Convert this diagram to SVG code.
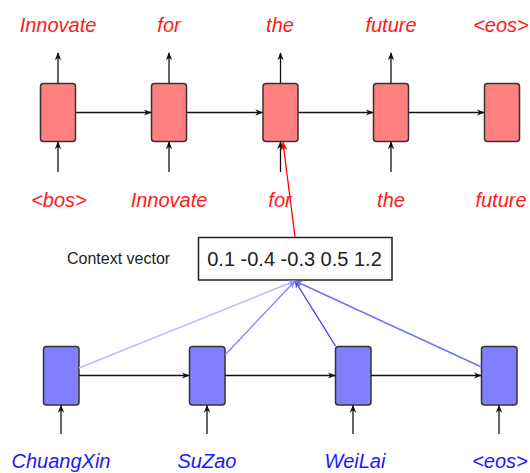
<svg xmlns="http://www.w3.org/2000/svg" width="530" height="473" viewBox="0 0 530 473">
  <style>
    .dec { fill: #ff8080; stroke: #333; stroke-width: 1.5; }
    .enc { fill: #8080ff; stroke: #333; stroke-width: 1.5; }
    .wr { font-family: "Liberation Sans", Arial, sans-serif; font-size: 20px; font-style: italic; fill: #ff1a1a; text-anchor: middle; }
    .wb { font-family: "Liberation Sans", Arial, sans-serif; font-size: 20px; font-style: italic; fill: #1a1aff; text-anchor: middle; }
    .blk { stroke: #111; stroke-width: 1.3; fill: none; }
    .ctx { fill: #fff; stroke: #222; stroke-width: 1.5; }
    .ctxt { font-family: "Liberation Sans", Arial, sans-serif; font-size: 20px; fill: #222; text-anchor: middle; }
    .lbl { font-family: "Liberation Sans", Arial, sans-serif; font-size: 16px; fill: #222; }
  </style>
  <defs>
    <marker id="ab" viewBox="0 0 10 10" refX="9" refY="5" markerWidth="8" markerHeight="8" markerUnits="userSpaceOnUse" orient="auto">
      <path d="M0,1 L10,5 L0,9 L3,5 Z" fill="#111"/>
    </marker>
    <marker id="ar" viewBox="0 0 10 10" refX="9" refY="5" markerWidth="9" markerHeight="9" markerUnits="userSpaceOnUse" orient="auto">
      <path d="M0,1 L10,5 L0,9 L3,5 Z" fill="#ff0000"/>
    </marker>
    <marker id="a1" viewBox="0 0 10 10" refX="9" refY="5" markerWidth="8" markerHeight="8" markerUnits="userSpaceOnUse" orient="auto">
      <path d="M0,1 L10,5 L0,9 L3,5 Z" fill="#b8b8ff"/>
    </marker>
    <marker id="a2" viewBox="0 0 10 10" refX="9" refY="5" markerWidth="8" markerHeight="8" markerUnits="userSpaceOnUse" orient="auto">
      <path d="M0,1 L10,5 L0,9 L3,5 Z" fill="#8888ff"/>
    </marker>
    <marker id="a3" viewBox="0 0 10 10" refX="9" refY="5" markerWidth="8" markerHeight="8" markerUnits="userSpaceOnUse" orient="auto">
      <path d="M0,1 L10,5 L0,9 L3,5 Z" fill="#4040ff"/>
    </marker>
    <marker id="a4" viewBox="0 0 10 10" refX="9" refY="5" markerWidth="8" markerHeight="8" markerUnits="userSpaceOnUse" orient="auto">
      <path d="M0,1 L10,5 L0,9 L3,5 Z" fill="#7070ff"/>
    </marker>
  </defs>

  <!-- decoder outputs -->
  <g id="out-words">
    <text class="wr" x="58" y="31.5">Innovate</text>
    <text class="wr" x="169" y="31.5">for</text>
    <text class="wr" x="280" y="31.5">the</text>
    <text class="wr" x="391" y="31.5">future</text>
    <text class="wr" x="501" y="31.5">&lt;eos&gt;</text>
  </g>

  <!-- decoder cells -->
  <g id="dec1"><rect class="dec" x="40.5" y="83.5" width="35" height="58" rx="3"/></g>
  <g id="dec2"><rect class="dec" x="151.5" y="83.5" width="35" height="58" rx="3"/></g>
  <g id="dec3"><rect class="dec" x="263" y="83.5" width="35" height="58" rx="3"/></g>
  <g id="dec4"><rect class="dec" x="373.5" y="83.5" width="35" height="58" rx="3"/></g>
  <g id="dec5"><rect class="dec" x="484.5" y="83.5" width="35" height="58" rx="3"/></g>

  <!-- decoder inputs -->
  <g id="in-words">
    <text class="wr" x="59" y="207">&lt;bos&gt;</text>
    <text class="wr" x="169" y="207">Innovate</text>
    <text class="wr" x="280" y="207">for</text>
    <text class="wr" x="391" y="207">the</text>
    <text class="wr" x="501" y="207">future</text>
  </g>

  <!-- context vector -->
  <g id="context">
    <text class="lbl" x="67" y="264">Context vector</text>
    <rect class="ctx" x="198.5" y="237.5" width="193.5" height="42.5"/>
    <text class="ctxt" x="294.5" y="266">0.1 -0.4 -0.3 0.5 1.2</text>
  </g>

  <!-- encoder cells -->
  <g id="enc1"><rect class="enc" x="43.5" y="346.5" width="35.5" height="58.5" rx="3"/></g>
  <g id="enc2"><rect class="enc" x="189.5" y="346.5" width="35.5" height="58.5" rx="3"/></g>
  <g id="enc3"><rect class="enc" x="335.5" y="346.5" width="35.5" height="58.5" rx="3"/></g>
  <g id="enc4"><rect class="enc" x="481.5" y="346.5" width="35.5" height="58.5" rx="3"/></g>

  <!-- encoder inputs -->
  <g id="src-words">
    <text class="wb" x="61" y="468">ChuangXin</text>
    <text class="wb" x="207" y="468">SuZao</text>
    <text class="wb" x="355" y="468">WeiLai</text>
    <text class="wb" x="500" y="468">&lt;eos&gt;</text>
  </g>

  <g id="connectors">
    <!-- decoder: outputs -->
    <line class="blk" x1="58" y1="83" x2="58" y2="53" marker-end="url(#ab)"/>
    <line class="blk" x1="169" y1="83" x2="169" y2="53" marker-end="url(#ab)"/>
    <line class="blk" x1="280.5" y1="83" x2="280.5" y2="53" marker-end="url(#ab)"/>
    <line class="blk" x1="391" y1="83" x2="391" y2="53" marker-end="url(#ab)"/>
    <!-- decoder: recurrence -->
    <line class="blk" x1="76" y1="112.5" x2="151" y2="112.5" marker-end="url(#ab)"/>
    <line class="blk" x1="187" y1="112.5" x2="262.5" y2="112.5" marker-end="url(#ab)"/>
    <line class="blk" x1="298.5" y1="112.5" x2="373" y2="112.5" marker-end="url(#ab)"/>
    <line class="blk" x1="409" y1="112.5" x2="484" y2="112.5" marker-end="url(#ab)"/>
    <!-- decoder: inputs -->
    <line class="blk" x1="58" y1="172" x2="58" y2="142" marker-end="url(#ab)"/>
    <line class="blk" x1="169" y1="172" x2="169" y2="142" marker-end="url(#ab)"/>
    <line class="blk" x1="280.5" y1="172" x2="280.5" y2="142" marker-end="url(#ab)"/>
    <line class="blk" x1="391" y1="172" x2="391" y2="142" marker-end="url(#ab)"/>
    <!-- context to decoder -->
    <line x1="295" y1="237" x2="283" y2="142.5" stroke="#ff0000" stroke-width="1.3" marker-end="url(#ar)"/>
    <!-- attention from encoder states -->
    <line x1="79" y1="368" x2="295" y2="281" stroke="#b8b8ff" stroke-width="1.4" marker-end="url(#a1)"/>
    <line x1="225" y1="355" x2="295" y2="281" stroke="#8888ff" stroke-width="1.4" marker-end="url(#a2)"/>
    <line x1="335.5" y1="346" x2="295" y2="281" stroke="#4040ff" stroke-width="1.4" marker-end="url(#a3)"/>
    <line x1="481.5" y1="367" x2="295" y2="281" stroke="#7070ff" stroke-width="1.4" marker-end="url(#a4)"/>
    <!-- encoder: recurrence -->
    <line class="blk" x1="79" y1="375.5" x2="189" y2="375.5" marker-end="url(#ab)"/>
    <line class="blk" x1="225" y1="375.5" x2="335" y2="375.5" marker-end="url(#ab)"/>
    <line class="blk" x1="371" y1="375.5" x2="481" y2="375.5" marker-end="url(#ab)"/>
    <!-- encoder: inputs -->
    <line class="blk" x1="61" y1="434" x2="61" y2="405.5" marker-end="url(#ab)"/>
    <line class="blk" x1="207" y1="434" x2="207" y2="405.5" marker-end="url(#ab)"/>
    <line class="blk" x1="353" y1="434" x2="353" y2="405.5" marker-end="url(#ab)"/>
    <line class="blk" x1="499" y1="434" x2="499" y2="405.5" marker-end="url(#ab)"/>
  </g>
</svg>
